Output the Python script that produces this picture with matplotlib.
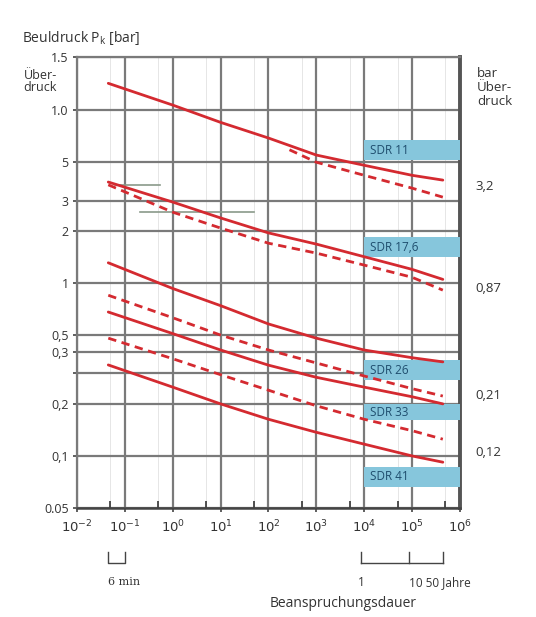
#python3
import numpy as np
import matplotlib
matplotlib.use('Agg')
import matplotlib.pyplot as plt
from matplotlib.patches import Rectangle
import matplotlib.transforms as mtransforms

plt.rcParams['font.family'] = ['Open Sans', 'DejaVu Sans']

# load duration in hours (common x points)
hours = [0.045, 1, 10, 100, 1000, 1e4, 1e5, 4.4e5]
hours_sdr11_dashed = [275, 1000, 1e4, 1e5, 4.4e5]

# buckling pressure [bar]
sdr11_solid = [14.3, 10.7, 8.5, 6.9, 5.5, 4.8, 4.2, 3.94]
sdr11_dashed = [5.9, 5.0, 4.2, 3.54, 3.14]
sdr17_solid = [3.84, 2.94, 2.38, 1.95, 1.68, 1.42, 1.2, 1.05]
sdr17_dashed = [3.7, 2.57, 2.08, 1.70, 1.49, 1.27, 1.08, 0.91]
low1_solid = [1.31, 0.93, 0.74, 0.58, 0.48, 0.41, 0.37, 0.35]
low2_dashed = [0.85, 0.63, 0.50, 0.41, 0.345, 0.29, 0.245, 0.222]
low3_solid = [0.68, 0.51, 0.41, 0.335, 0.285, 0.25, 0.22, 0.20]
low4_dashed = [0.48, 0.365, 0.295, 0.24, 0.195, 0.163, 0.14, 0.125]
low5_solid = [0.336, 0.25, 0.20, 0.163, 0.137, 0.117, 0.10, 0.092]

# SDR label boxes (y range of each box)
sdr_labels = ['SDR 11', 'SDR 17,6', 'SDR 26', 'SDR 33', 'SDR 41']
sdr_box_lo = [5.14, 1.41, 0.275, 0.161, 0.066]
sdr_box_hi = [6.7, 1.84, 0.358, 0.20, 0.0865]

# right side values
right_labels = ['3,2', '0,87', '0,21', '0,12']
right_pos = [3.6, 0.93, 0.225, 0.105]

# y ticks as printed
ytick_vals = [20.3, 10, 5, 3, 2, 1, 0.5, 0.4, 0.3, 0.2, 0.1, 0.05]
ytick_txt = ['1.5', '1.0', '5', '3', '2', '1', '0,5', '0,3', '', '0,2', '0,1', '0.05']

xtick_vals = [1e-2, 1e-1, 1e0, 1e1, 1e2, 1e3, 1e4, 1e5, 1e6]
xtick_txt = ['$10^{-2}$', '$10^{-1}$', '$10^{0}$', '$10^{1}$', '$10^{2}$',
             '$10^{3}$', '$10^{4}$', '$10^{5}$', '$10^{6}$']

red = '#d42a30'
grid_c = '#7a7a7a'
txt_c = '#333333'

fig = plt.figure(figsize=(5.36, 6.17), dpi=100)
ax = fig.add_axes([0.1437, 0.1767, 0.858 - 0.1437, 0.9076 - 0.1767])
ax.set_xscale('log')
ax.set_yscale('log')
ax.set_xlim(1e-2, 1e6)
ax.set_ylim(0.05, 20.3)

# grid
for xv in xtick_vals:
    ax.axvline(xv, color=grid_c, lw=1.6, zorder=1)
for xv in [5 * 10.0**k for k in range(-2, 6)]:
    ax.axvline(xv, color='#e2e2e2', lw=0.6, zorder=0.5)
for yv in ytick_vals:
    ax.axhline(yv, color=grid_c, lw=1.6, zorder=1)

ax.set_xticks(xtick_vals)
ax.set_xticklabels(xtick_txt, fontsize=9.5, color=txt_c, family='DejaVu Serif')
ax.set_yticks(ytick_vals)
ax.set_yticklabels(ytick_txt, fontsize=9, color=txt_c)
ax.minorticks_off()
ax.tick_params(axis='both', length=3, width=1.2, color='#444444', pad=3)
ax.tick_params(axis='x', pad=5)
# small ticks at 5*10^n on bottom axis
ax.set_xticks([5 * 10.0**k for k in range(-2, 6)], minor=True)
ax.tick_params(axis='x', which='minor', direction='in', length=5, width=1.2, color='#333333')

for s in ['left', 'top']:
    ax.spines[s].set_color(grid_c)
    ax.spines[s].set_linewidth(1.6)
ax.spines['bottom'].set_color('#444444')
ax.spines['bottom'].set_linewidth(1.8)
ax.spines['right'].set_color('#555555')
ax.spines['right'].set_linewidth(2.8)

# curves
solid = dict(color=red, lw=2.0, solid_capstyle='round', zorder=4)
dashed = dict(color=red, lw=2.0, linestyle=(0, (3, 2)), zorder=4)
ax.plot(hours, sdr11_solid, **solid)
ax.plot(hours_sdr11_dashed, sdr11_dashed, **dashed)
ax.plot(hours, sdr17_solid, **solid)
ax.plot(hours, sdr17_dashed, **dashed)
ax.plot(hours, low1_solid, **solid)
ax.plot(hours, low2_dashed, **dashed)
ax.plot(hours, low3_solid, **solid)
ax.plot(hours, low4_dashed, **dashed)
ax.plot(hours, low5_solid, **solid)

# gray leader lines near SDR 17,6 start
ax.plot([0.062, 0.54], [3.68, 3.68], color='#8a9a8a', lw=1.2, zorder=3)
ax.plot([0.205, 51], [2.57, 2.57], color='#8a9a8a', lw=1.2, zorder=3)

# SDR label boxes
for lab, lo, hi in zip(sdr_labels, sdr_box_lo, sdr_box_hi):
    ax.add_patch(Rectangle((1e4, lo), 1e6 - 1e4, hi - lo, facecolor='#86c6dc',
                           edgecolor='none', zorder=3))
    ax.text(1.3e4, np.sqrt(lo * hi), lab, fontsize=8.5, color='#1f4e6e',
            va='center', ha='left', zorder=5)

# right side values
for lab, yv in zip(right_labels, right_pos):
    ax.text(1.04, yv, lab, transform=mtransforms.blended_transform_factory(ax.transAxes, ax.transData),
            fontsize=9.5, color=txt_c, va='center', ha='left')

# header texts
fig.text(0.041, 0.938, 'Beuldruck P$_\\mathregular{k}$ [bar]', fontsize=10, color=txt_c, ha='left', va='center')
fig.text(0.075, 0.868, 'Über-\ndruck', fontsize=9, color=txt_c, ha='center', va='center', linespacing=0.9)
fig.text(0.89, 0.858, 'bar\nÜber-\ndruck', fontsize=9.5, color=txt_c, ha='left', va='center', linespacing=1.1)

# bottom annotations (brackets)
bt = mtransforms.blended_transform_factory(ax.transData, ax.transAxes)
ax.plot([0.045, 0.045, 0.1, 0.1], [-0.098, -0.122, -0.122, -0.098], color='#444444',
        lw=1.0, transform=bt, clip_on=False)
ax.text(0.045, -0.165, '6 min', fontsize=8, color=txt_c, transform=bt, ha='left', va='center',
        family='DejaVu Serif')
yr = 8760.0
ax.plot([yr, 50 * yr], [-0.122, -0.122], color='#444444', lw=1.0, transform=bt, clip_on=False)
for xv in [yr, 10 * yr, 50 * yr]:
    ax.plot([xv, xv], [-0.098, -0.122], color='#444444', lw=1.0, transform=bt, clip_on=False)
ax.text(yr, -0.165, '1', fontsize=8.5, color=txt_c, transform=bt, ha='center', va='center')
ax.text(10 * yr, -0.165, '10 50 Jahre', fontsize=8.5, color=txt_c, transform=bt, ha='left', va='center')
fig.text(0.64, 0.022, 'Beanspruchungsdauer', fontsize=10, color=txt_c, ha='center', va='center')

fig.savefig('out.png', dpi=100)
